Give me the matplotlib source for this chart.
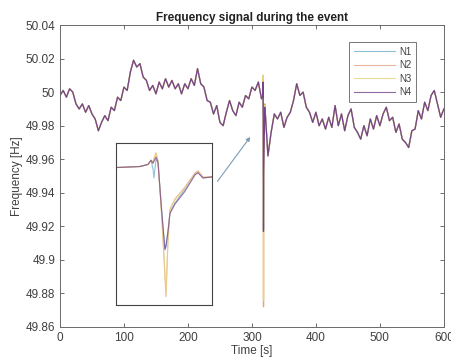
import numpy as np
import matplotlib
matplotlib.use("Agg")
import matplotlib.pyplot as plt
from matplotlib.ticker import FuncFormatter

plt.rcParams['font.family'] = ['Liberation Sans', 'DejaVu Sans']

# slow part before the event, every 5 s
t_pre = list(range(0, 315, 5))
f_pre = [49.998, 50.001, 49.997, 50.002, 50.000, 49.993, 49.990, 49.993, 49.988, 49.992,
         49.987, 49.984, 49.977, 49.982, 49.986, 49.983, 49.991, 49.989, 49.997, 49.995,
         50.003, 50.001, 50.012, 50.019, 50.015, 50.017, 50.009, 50.007, 50.001, 50.004,
         49.999, 50.006, 50.002, 50.008, 50.003, 50.007, 50.002, 50.005, 49.999, 50.005,
         50.002, 50.008, 50.004, 50.014, 50.005, 50.003, 49.995, 49.994, 49.987, 49.992,
         49.982, 49.980, 49.988, 49.995, 49.989, 49.986, 49.994, 49.991, 49.998, 49.996,
         50.003, 50.001, 50.006]

# the event itself, finer time steps, one list per node
t_evt = [315.0, 316.5, 317.0, 317.19, 317.31, 317.375, 317.5, 317.625, 317.875,
         318.06, 318.125, 318.25, 318.375, 318.69, 319.3, 319.94, 320.125, 320.44, 321.0]
n1_evt = [49.996, 49.997, 49.999, 50.003, 49.995, 49.986, 50.004, 50.001, 49.952,
          49.918, 49.920, 49.936, 49.953, 49.962, 49.975, 49.990, 49.992, 49.986, 49.987]
n2_evt = [49.996, 49.997, 49.999, 50.003, 50.001, 50.004, 50.010, 50.002, 49.945,
          49.890, 49.872, 49.925, 49.956, 49.966, 49.977, 49.991, 49.993, 49.987, 49.987]
n3_evt = [49.996, 49.997, 49.999, 50.003, 50.002, 50.005, 50.010, 50.003, 49.947,
          49.893, 49.876, 49.928, 49.955, 49.965, 49.976, 49.990, 49.992, 49.986, 49.987]
n4_evt = [49.996, 49.997, 49.999, 50.003, 50.000, 50.002, 50.006, 50.001, 49.950,
          49.917, 49.921, 49.934, 49.952, 49.961, 49.973, 49.989, 49.991, 49.986, 49.987]

# after the event, every 5 s
t_post = list(range(325, 601, 5))
f_post = [49.962, 49.976, 49.987, 49.984, 49.988, 49.979, 49.985, 49.988, 49.995, 50.005,
          49.998, 50.000, 49.991, 49.988, 49.982, 49.988, 49.980, 49.984, 49.978, 49.985,
          49.979, 49.992, 49.980, 49.987, 49.977, 49.986, 49.990, 49.979, 49.976, 49.972,
          49.980, 49.974, 49.984, 49.978, 49.986, 49.980, 49.987, 49.991, 49.983, 49.985,
          49.976, 49.981, 49.972, 49.970, 49.967, 49.977, 49.978, 49.989, 49.984, 49.994,
          49.989, 49.998, 50.001, 49.993, 49.985, 49.990]

names = ['N1', 'N2', 'N3', 'N4']
colors = ['#72aecb', '#e2a283', '#e9d27e', '#73448a']
events = [n1_evt, n2_evt, n3_evt, n4_evt]

t_all = np.array(t_pre + t_evt + t_post)
series = [np.array(f_pre + ev + f_post) for ev in events]

fig = plt.figure(figsize=(4.52, 3.63), dpi=100)
ax = fig.add_axes([0.1327, 0.0992, 0.8493, 0.8318])

for name, col, y in zip(names, colors, series):
    ax.plot(t_all, y, color=col, lw=0.9, label=name)

ax.set_xlim(0, 600)
ax.set_ylim(49.86, 50.04)
ax.set_xticks(np.arange(0, 601, 100))
ax.set_yticks(np.arange(49.86, 50.041, 0.02))
ax.yaxis.set_major_formatter(FuncFormatter(lambda v, p: '%g' % round(v, 2)))
ax.tick_params(direction='in', length=3, top=True, right=True, labelsize=8.5,
               colors='#555555', labelcolor='#404040', width=0.6)
for s in ax.spines.values():
    s.set_color('#6a6a6a')
    s.set_linewidth(0.7)

ax.set_title('Frequency signal during the event', fontsize=8.5, fontweight='bold',
             color='#222222', pad=3)
ax.set_xlabel('Time [s]', fontsize=8.5, color='#404040', labelpad=1)
ax.set_ylabel('Frequency [Hz]', fontsize=8.5, color='#404040', labelpad=2)

leg = ax.legend(loc='upper right', bbox_to_anchor=(0.94, 0.96), fontsize=7,
                handlelength=4.2, fancybox=False, borderpad=0.5, labelspacing=0.35,
                handletextpad=0.4)
leg.get_frame().set_edgecolor('#555555')
leg.get_frame().set_linewidth(0.7)
for txt in leg.get_texts():
    txt.set_color('#404040')
for ln in leg.get_lines():
    ln.set_linewidth(0.8)
    ln.set_alpha(0.8)

# zoomed view of the event
ins = fig.add_axes([0.2566, 0.1598, 0.2124, 0.4463])
for col, y in zip(colors, series):
    ins.plot(t_all, y, color=col, lw=0.8, alpha=0.75)
ins.set_xlim(315, 321)
ins.set_ylim(49.864, 50.0196)
ins.set_xticks([])
ins.set_yticks([])
for s in ins.spines.values():
    s.set_color('#444444')
    s.set_linewidth(0.8)

ax.annotate('', xy=(0.5, 0.637), xytext=(0.406, 0.475), xycoords='axes fraction',
            arrowprops=dict(arrowstyle='-|>', color='#7f9cb5', lw=0.8,
                            mutation_scale=6))

fig.savefig('out.png', dpi=100)
